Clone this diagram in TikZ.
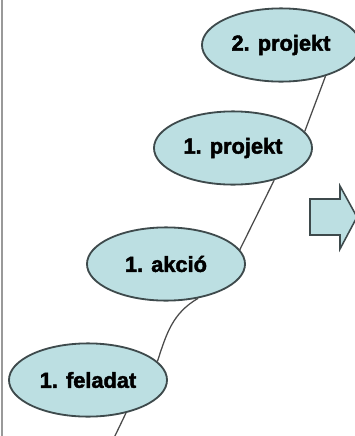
\documentclass[tikz,border=0pt]{standalone}
\usepackage{fontspec}
\setmainfont{Liberation Sans}[BoldFeatures={FakeBold=2}]
\usepackage{xcolor}
\usetikzlibrary{arrows.meta, positioning, shapes.geometric}

\definecolor{bubblefill}{HTML}{BCDFE2}
\definecolor{bubbleline}{HTML}{3E4A4C}
\definecolor{pathline}{HTML}{4A4A4A}

\begin{document}
\begin{tikzpicture}[
    x=0.025cm, y=-0.025cm,
    bubble/.style={ellipse, draw=bubbleline, fill=bubblefill, line width=1.3pt,
                   minimum width=3.95cm, minimum height=1.83cm, inner sep=0pt,
                   font=\fontsize{15.5}{18}\selectfont\bfseries},
    trail/.style={draw=pathline, line width=0.9pt},
]
\useasboundingbox (0,0) rectangle (355,436);

% left frame line
\draw[gray!80, line width=1.4pt] (2,0) -- (2,436);

% Nodes
\node[bubble] (P2) at (281,45) {2. projekt};
\node[bubble] (P1) at (233,148) {1. projekt};
\node[bubble] (A1) at (166,264) {1. akció};
\node[bubble] (F1) at (88,380) {1. feladat};
\coordinate (end) at (113,440);

% Edges
\draw[trail] (P2.-35) -- (P1.13);
\draw[trail] (P1.-38) -- (A1.11);
\draw[trail] (A1.-47) to[out=-150, in=72] (F1.15);
\draw[trail] (F1.-41) -- (end);

% block arrow
\draw[draw=bubbleline, fill=bubblefill, line width=1.1pt]
    (310,199) -- (340,199) -- (340,186) -- (357,217) -- (340,249)
    -- (340,235) -- (310,235) -- cycle;

\end{tikzpicture}
\end{document}
